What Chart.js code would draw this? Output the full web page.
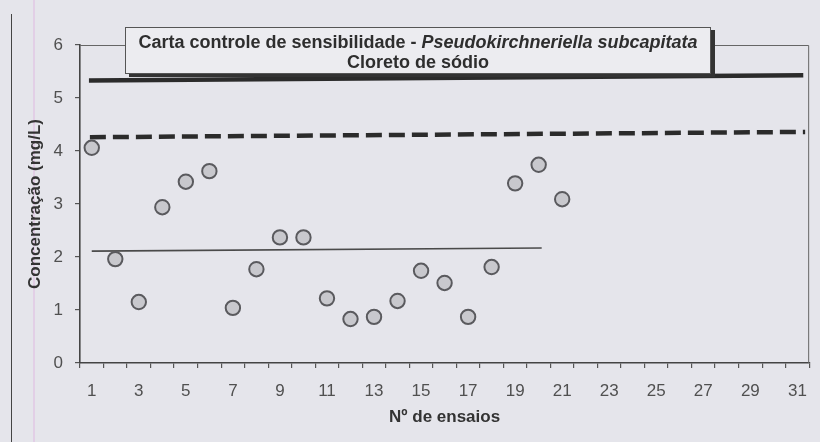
<!DOCTYPE html>
<html>
<head>
<meta charset="utf-8">
<script src="https://cdn.jsdelivr.net/npm/chart.js@4.4.1/dist/chart.umd.min.js"></script>
<style>
  html, body { margin: 0; padding: 0; background: #e5e5eb; }
  #wrap { position: relative; width: 820px; height: 442px; overflow: hidden; background: #e5e5eb; }
  #c { position: absolute; left: 0; top: 0; }
  #leftRule { position: absolute; left: 11px; top: 14px; width: 0; height: 428px; border-left: 1.5px solid #444; }
  #pinkRule { position: absolute; left: 33px; top: 0; width: 0; height: 442px; border-left: 2px solid #e2cfe6; }
  #titleBox {
    position: absolute; left: 125px; top: 27px; width: 586px; height: 47px;
    background: #ececf0; border: 1px solid #555; box-shadow: 4px 3px 0 #333;
    font-family: "Liberation Sans", Arial, sans-serif; font-weight: bold; font-size: 18px;
    color: #2e2e2e; text-align: center; line-height: 20px; padding-top: 4px; box-sizing: border-box;
  }
</style>
</head>
<body>
<div id="wrap">
  <div id="pinkRule"></div>
  <div id="leftRule"></div>
  <canvas id="c" width="820" height="442"></canvas>
  <div id="titleBox">Carta controle de sensibilidade - <i>Pseudokirchneriella subcapitata</i><br>Cloreto de sódio</div>
</div>
<script>
// ---- data ----
const assayLabels = Array.from({length: 31}, (_, i) => String(i + 1));
const assayNumbers = [1,2,3,4,5,6,7,8,9,10,11,12,13,14,15,16,17,18,19,20,21];
const concentrations = [4.06,1.96,1.15,2.94,3.42,3.62,1.04,1.77,2.37,2.37,1.22,0.83,0.87,1.17,1.74,1.51,0.87,1.81,3.39,3.74,3.09];
const upperLimitX = [0.88, 31.25];
const upperLimitY = [5.33, 5.43];
const warnLimitX = [0.92, 31.33];
const warnLimitY = [4.26, 4.36];
const meanX = [1.0, 20.13];
const meanY = [2.11, 2.17];
const yTicks = [0,1,2,3,4,5,6];

const pts = (xs, ys) => xs.map((x, i) => ({x: x, y: ys[i]}));

const framePlugin = {
  id: 'frame',
  beforeDatasetsDraw(chart) {
    const a = chart.chartArea, ctx = chart.ctx;
    ctx.save();
    ctx.strokeStyle = '#666';
    ctx.lineWidth = 1;
    ctx.beginPath();
    ctx.moveTo(a.left, a.top + 0.5);
    ctx.lineTo(a.right - 0.5, a.top + 0.5);
    ctx.lineTo(a.right - 0.5, a.bottom);
    ctx.stroke();
    ctx.restore();
  }
};

const font = '"Liberation Sans", Arial, sans-serif';

new Chart(document.getElementById('c'), {
  type: 'scatter',
  data: {
    labels: assayLabels,
    datasets: [
      { type: 'line', xAxisID: 'x2', data: pts(upperLimitX, upperLimitY), borderColor: '#2b2b2b', borderWidth: 4.5, pointRadius: 0, fill: false, order: 3 },
      { type: 'line', xAxisID: 'x2', data: pts(warnLimitX, warnLimitY), borderColor: '#2b2b2b', borderWidth: 4.5, borderDash: [16, 7], pointRadius: 0, fill: false, order: 3 },
      { type: 'line', xAxisID: 'x2', data: pts(meanX, meanY), borderColor: '#4a4a4a', borderWidth: 1.6, pointRadius: 0, fill: false, order: 3 },
      { type: 'scatter', xAxisID: 'x2', data: pts(assayNumbers, concentrations), backgroundColor: '#c8c8cd', borderColor: '#5a5a5e', borderWidth: 2, pointRadius: 7.2, pointHoverRadius: 7.2, order: 1 }
    ]
  },
  options: {
    responsive: false,
    animation: false,
    events: [],
    layout: { padding: { left: 0, top: 45, right: 4, bottom: 0 } },
    plugins: { legend: { display: false }, tooltip: { enabled: false }, title: { display: false } },
    scales: {
      x: {
        type: 'category',
        position: 'bottom',
        offset: true,
        afterFit(s) { s.height = 79; },
        grid: { offset: true, drawOnChartArea: false, drawTicks: true, tickLength: 5, color: '#555', lineWidth: 1.2 },
        border: { display: true, color: '#444', width: 1.6 },
        ticks: {
          autoSkip: false, maxRotation: 0, minRotation: 0, padding: 13,
          color: '#505050', font: { family: font, size: 17 },
          callback(v, i) { return i % 2 === 0 ? assayLabels[i] : ''; }
        },
        title: { display: true, text: 'Nº de ensaios', color: '#333', font: { family: font, size: 17, weight: 'bold' }, padding: { top: 0, bottom: 14 } }
      },
      x2: { type: 'linear', display: false, min: 0.5, max: 31.5 },
      y: {
        type: 'linear', min: 0, max: 6,
        afterFit(s) { s.width = 80; },
        afterBuildTicks(s) { s.ticks = yTicks.map(v => ({value: v})); },
        grid: { drawOnChartArea: false, drawTicks: true, tickLength: 5, color: '#555', lineWidth: 1.2 },
        border: { display: true, color: '#444', width: 1.6 },
        ticks: { padding: 12, color: '#505050', font: { family: font, size: 17 } },
        title: { display: true, text: 'Concentração (mg/L)', color: '#333', font: { family: font, size: 17, weight: 'bold' }, padding: { top: 25, bottom: 0 } }
      }
    }
  },
  plugins: [framePlugin]
});
</script>
</body>
</html>
